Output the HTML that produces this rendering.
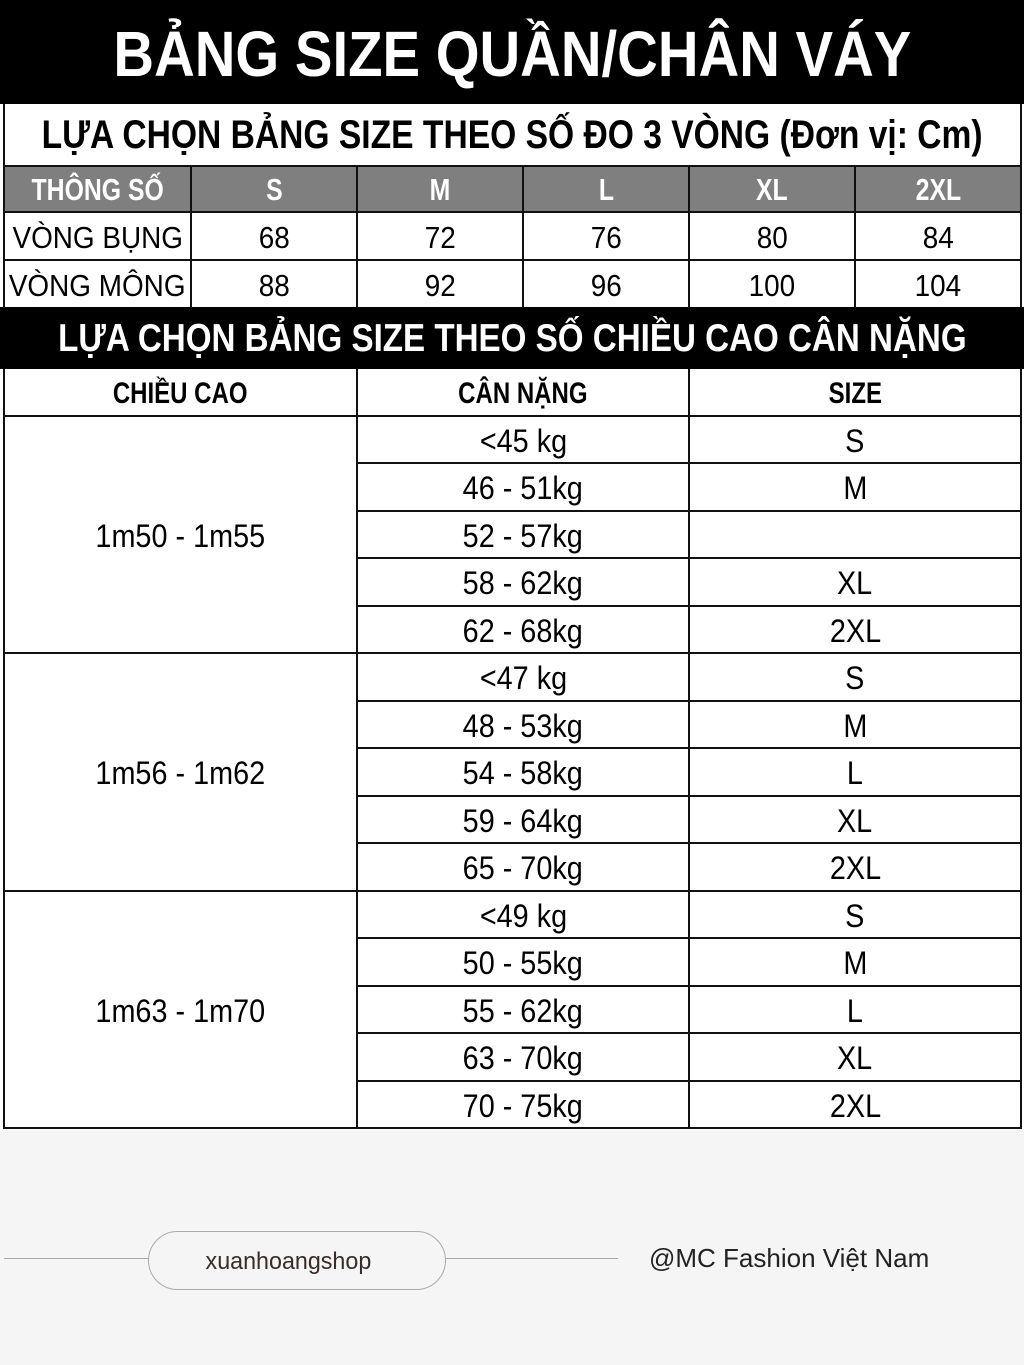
<!DOCTYPE html>
<html><head><meta charset="utf-8">
<style>
*{margin:0;padding:0;box-sizing:border-box}
body{width:1024px;height:1365px;background:#f5f5f5;position:relative;overflow:hidden;font-family:"Liberation Sans",sans-serif}
.b{position:absolute}
.t{position:absolute;display:flex;align-items:center;justify-content:center;white-space:nowrap}
.t span{display:inline-block;transform:scaleX(.8)}
.d span{transform:scaleX(.9)}
.hl{position:absolute;height:2px;background:#111}
.vl{position:absolute;width:2px;background:#111}
</style></head><body>
<div class="b" style="left:0;top:0;width:1024px;height:1130px;background:#fff"></div>
<div class="b" style="left:0;top:0;width:1024px;height:104px;background:#000"></div>
<div class="t" style="left:0;top:0;width:1024px;height:108px;color:#fff;font-weight:bold;font-size:64px"><span style="transform:scaleX(.88)">BẢNG SIZE QUẦN/CHÂN VÁY</span></div>
<div class="t" style="left:0;top:104px;width:1024px;height:62px;color:#000;font-weight:bold;font-size:40px"><span style="transform:scaleX(.84)">LỰA CHỌN BẢNG SIZE THEO SỐ ĐO 3 VÒNG (Đơn vị: Cm)</span></div>
<div class="b" style="left:4px;top:166px;width:1017px;height:46px;background:#7f7f7f"></div>
<div class="b" style="left:0;top:307px;width:1024px;height:62px;background:#000"></div>
<div class="t" style="left:0;top:307px;width:1024px;height:64px;color:#fff;font-weight:bold;font-size:39px"><span style="transform:scaleX(.85)">LỰA CHỌN BẢNG SIZE THEO SỐ CHIỀU CAO CÂN NẶNG</span></div>

<div class="t" style="left:4px;top:166px;width:187px;height:48px;color:#fff;font-weight:bold;font-size:31px"><span>THÔNG SỐ</span></div>
<div class="t" style="left:191px;top:166px;width:166px;height:48px;color:#fff;font-weight:bold;font-size:31px"><span>S</span></div>
<div class="t" style="left:357px;top:166px;width:166px;height:48px;color:#fff;font-weight:bold;font-size:31px"><span>M</span></div>
<div class="t" style="left:523px;top:166px;width:166px;height:48px;color:#fff;font-weight:bold;font-size:31px"><span>L</span></div>
<div class="t" style="left:689px;top:166px;width:166px;height:48px;color:#fff;font-weight:bold;font-size:31px"><span>XL</span></div>
<div class="t" style="left:855px;top:166px;width:166px;height:48px;color:#fff;font-weight:bold;font-size:31px"><span>2XL</span></div>

<div class="t d" style="left:4px;top:212px;width:187px;height:52px;font-size:31px"><span>VÒNG BỤNG</span></div>
<div class="t d" style="left:191px;top:212px;width:166px;height:52px;font-size:31px"><span>68</span></div>
<div class="t d" style="left:357px;top:212px;width:166px;height:52px;font-size:31px"><span>72</span></div>
<div class="t d" style="left:523px;top:212px;width:166px;height:52px;font-size:31px"><span>76</span></div>
<div class="t d" style="left:689px;top:212px;width:166px;height:52px;font-size:31px"><span>80</span></div>
<div class="t d" style="left:855px;top:212px;width:166px;height:52px;font-size:31px"><span>84</span></div>
<div class="t d" style="left:4px;top:260px;width:187px;height:52px;font-size:31px"><span>VÒNG MÔNG</span></div>
<div class="t d" style="left:191px;top:260px;width:166px;height:52px;font-size:31px"><span>88</span></div>
<div class="t d" style="left:357px;top:260px;width:166px;height:52px;font-size:31px"><span>92</span></div>
<div class="t d" style="left:523px;top:260px;width:166px;height:52px;font-size:31px"><span>96</span></div>
<div class="t d" style="left:689px;top:260px;width:166px;height:52px;font-size:31px"><span>100</span></div>
<div class="t d" style="left:855px;top:260px;width:166px;height:52px;font-size:31px"><span>104</span></div>

<div class="hl" style="left:4px;top:165px;width:1018px"></div>
<div class="hl" style="left:4px;top:211px;width:1018px"></div>
<div class="hl" style="left:4px;top:259px;width:1018px"></div>
<div class="vl" style="left:3px;top:104px;height:204px"></div>
<div class="vl" style="left:1020px;top:104px;height:204px"></div>
<div class="vl" style="left:190px;top:166px;height:142px"></div>
<div class="vl" style="left:356px;top:166px;height:142px"></div>
<div class="vl" style="left:522px;top:166px;height:142px"></div>
<div class="vl" style="left:688px;top:166px;height:142px"></div>
<div class="vl" style="left:854px;top:166px;height:142px"></div>

<div class="t" style="left:4px;top:369px;width:353px;height:50px;font-weight:bold;font-size:30px"><span>CHIỀU CAO</span></div>
<div class="t" style="left:357px;top:369px;width:332px;height:50px;font-weight:bold;font-size:30px"><span>CÂN NẶNG</span></div>
<div class="t" style="left:689px;top:369px;width:332px;height:50px;font-weight:bold;font-size:30px"><span>SIZE</span></div>

<div class="t d" style="left:4px;top:416px;width:353px;height:240px;font-size:32px"><span>1m50 - 1m55</span></div>
<div class="t d" style="left:4px;top:653px;width:353px;height:240px;font-size:32px"><span>1m56 - 1m62</span></div>
<div class="t d" style="left:4px;top:891px;width:353px;height:240px;font-size:32px"><span>1m63 - 1m70</span></div>

<div id="rows"></div>
<script>
var w=["<45 kg","46 - 51kg","52 - 57kg","58 - 62kg","62 - 68kg","<47 kg","48 - 53kg","54 - 58kg","59 - 64kg","65 - 70kg","<49 kg","50 - 55kg","55 - 62kg","63 - 70kg","70 - 75kg"];
var s=["S","M","","XL","2XL","S","M","L","XL","2XL","S","M","L","XL","2XL"];
var h="";
for(var i=0;i<15;i++){var y=416+i*47.47;
h+='<div class="t d" style="left:357px;top:'+y+'px;width:332px;height:51px;font-size:32px"><span>'+w[i].replace("<","&lt;")+'</span></div>';
h+='<div class="t d" style="left:689px;top:'+y+'px;width:332px;height:51px;font-size:32px"><span>'+s[i]+'</span></div>';
if(i>0){var l=(i%5==0)?4:357;h+='<div class="hl" style="left:'+l+'px;top:'+(y-1)+'px;width:'+(1022-l)+'px"></div>';}
}
document.getElementById("rows").innerHTML=h;
</script>
<div class="hl" style="left:4px;top:415px;width:1018px"></div>
<div class="hl" style="left:4px;top:1127px;width:1018px"></div>
<div class="vl" style="left:3px;top:369px;height:760px"></div>
<div class="vl" style="left:1020px;top:369px;height:760px"></div>
<div class="vl" style="left:356px;top:369px;height:760px"></div>
<div class="vl" style="left:688px;top:369px;height:760px"></div>

<div class="b" style="left:4px;top:1258px;width:145px;height:1px;background:#aaa"></div>
<div class="b" style="left:446px;top:1258px;width:172px;height:1px;background:#aaa"></div>
<div class="b" style="left:148px;top:1231px;width:298px;height:59px;border:1.5px solid #aaa;border-radius:30px"></div>
<div class="t" style="left:148px;top:1231px;width:280px;height:62px;font-size:24px;color:#3a2c28"><span style="transform:scaleX(.97)">xuanhoangshop</span></div>
<div class="b" style="left:649px;top:1243px;font-size:26px;color:#222;white-space:nowrap">@MC Fashion Việt Nam</div>
</body></html>
